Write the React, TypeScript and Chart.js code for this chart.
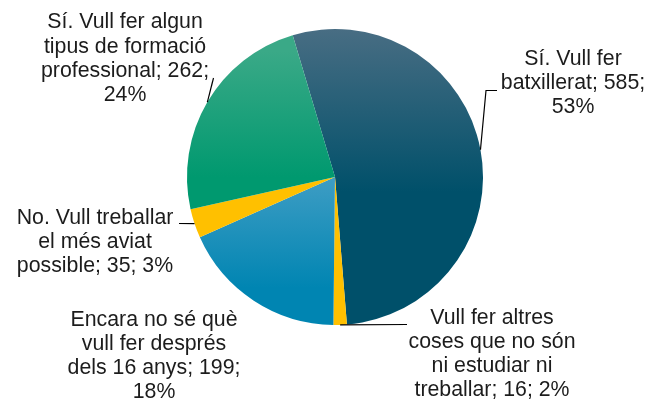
import React, { useEffect, useRef } from "react";
import { Chart, registerables } from "chart.js";

Chart.register(...registerables);

const categories = [
  "Sí. Vull fer batxillerat",
  "Vull fer altres coses que no són ni estudiar ni treballar",
  "Encara no sé què vull fer després dels 16 anys",
  "No. Vull treballar el més aviat possible",
  "Sí. Vull fer algun tipus de formació professional",
];
const values = [585, 16, 199, 35, 262];

const labelLines = [
  ["Sí. Vull fer", "batxillerat; 585;", "53%"],
  ["Vull fer altres", "coses que no són", "ni estudiar ni", "treballar; 16; 2%"],
  ["Encara no sé què", "vull fer després", "dels 16 anys; 199;", "18%"],
  ["No. Vull treballar", "el més aviat", "possible; 35; 3%"],
  ["Sí. Vull fer algun", "tipus de formació", "professional; 262;", "24%"],
];

// gradient stops (top colour, bottom colour) per slice
const gradTop = ["#486d83", "#ffc000", "#3e9dc4", "#ffc000", "#3aa987"];
const gradBottom = ["#00506a", "#ffc000", "#0085b2", "#ffc000", "#00996f"];
// gradient vertical extent relative to centre, in radius units
const gradFrom = [-1, 0, 0, 0, -0.85];
const gradTo = [0.1, 1, 0.75, 1, 0];

// label layout (centre x, first line y)
const labelX = [573, 492, 154, 95, 125];
const labelY = [59, 318, 320, 218, 22.5];
const LINE_H = 24.2;
const FONT_SIZE = 21.3;

// leader line bend points after the slice edge point
const leaders: number[][][] = [
  [[486, 90.5], [497, 90.5]],
  [[407, 324.5]],
  [],
  [[179, 223.5]],
  [[213.5, 78]],
];

const labelPlugin = {
  id: "pieLabels",
  afterDatasetsDraw(chart: any) {
    const ctx = chart.ctx as CanvasRenderingContext2D;
    const meta = chart.getDatasetMeta(0);
    ctx.save();
    ctx.font = `${FONT_SIZE}px "Liberation Sans", Arial, sans-serif`;
    ctx.fillStyle = "#1c1c1c";
    ctx.textAlign = "center";
    ctx.textBaseline = "middle";
    ctx.strokeStyle = "#000000";
    ctx.lineWidth = 1.2;
    meta.data.forEach((arc: any, i: number) => {
      const p = arc.getProps(["x", "y", "startAngle", "endAngle", "outerRadius"], true);
      const mid = (p.startAngle + p.endAngle) / 2;
      const ex = p.x + Math.cos(mid) * p.outerRadius;
      const ey = p.y + Math.sin(mid) * p.outerRadius;
      const path = leaders[i];
      if (path.length) {
        ctx.beginPath();
        ctx.moveTo(ex, ey);
        path.forEach(([px, py]) => ctx.lineTo(px, py));
        ctx.stroke();
      }
      labelLines[i].forEach((t, j) => ctx.fillText(t, labelX[i], labelY[i] + j * LINE_H));
    });
    ctx.restore();
  },
};

export default function App() {
  const ref = useRef<HTMLCanvasElement>(null);
  useEffect(() => {
    if (!ref.current) return;
    const chart = new Chart(ref.current, {
      type: "pie",
      data: {
        labels: categories,
        datasets: [
          {
            data: values,
            borderWidth: 0,
            backgroundColor: (c: any) => {
              const i = c.dataIndex;
              const area = c.chart.chartArea;
              if (!area) return gradBottom[i];
              const cy = (area.top + area.bottom) / 2;
              const r = Math.min(area.width, area.height) / 2;
              const g = c.chart.ctx.createLinearGradient(0, cy + gradFrom[i] * r, 0, cy + gradTo[i] * r);
              g.addColorStop(0, gradTop[i]);
              g.addColorStop(1, gradBottom[i]);
              return g;
            },
          },
        ],
      },
      options: {
        responsive: false,
        animation: false,
        rotation: -16.6,
        layout: { padding: { left: 187, top: 29, right: 165, bottom: 76 } },
        plugins: {
          legend: { display: false },
          tooltip: { enabled: false },
        },
      },
      plugins: [labelPlugin],
    });
    return () => chart.destroy();
  }, []);
  return (
    <div style={{ position: "absolute", left: 0, top: 0, width: 648, height: 401, background: "#fff" }}>
      <canvas ref={ref} width={648} height={401} />
    </div>
  );
}
